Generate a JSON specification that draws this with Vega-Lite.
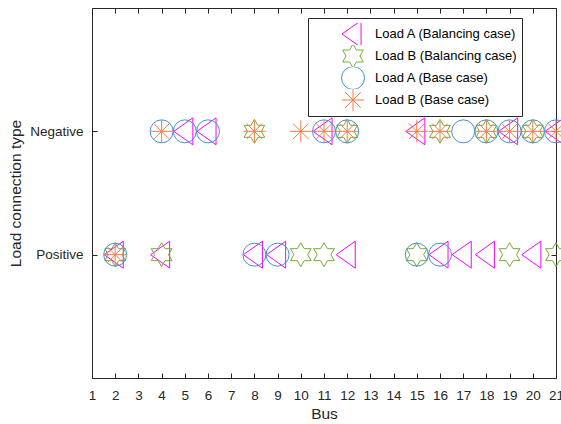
{
  "$schema": "https://vega.github.io/schema/vega-lite/v6.json",
  "width": 464,
  "height": 370,
  "autosize": {"type": "none"},
  "padding": {"left": 92, "top": 8, "right": 5, "bottom": 46},
  "background": "white",
  "config": {
    "font": "Liberation Sans",
    "view": {"stroke": "#262626", "strokeWidth": 1},
    "axis": {
      "grid": false,
      "domain": false,
      "tickColor": "#262626",
      "tickSize": -5,
      "tickWidth": 1,
      "labelColor": "#262626",
      "labelFont": "Liberation Sans",
      "labelFontSize": 13.5,
      "titleColor": "#262626",
      "titleFont": "Liberation Sans",
      "titleFontSize": 15.5,
      "titleFontWeight": "normal"
    }
  },
  "data": {
    "values": [
      {"bus": 5, "type": "Negative", "series": "Load A (Balancing case)"},
      {"bus": 6, "type": "Negative", "series": "Load A (Balancing case)"},
      {"bus": 11, "type": "Negative", "series": "Load A (Balancing case)"},
      {"bus": 15, "type": "Negative", "series": "Load A (Balancing case)"},
      {"bus": 19, "type": "Negative", "series": "Load A (Balancing case)"},
      {"bus": 21, "type": "Negative", "series": "Load A (Balancing case)"},
      {"bus": 2, "type": "Positive", "series": "Load A (Balancing case)"},
      {"bus": 4, "type": "Positive", "series": "Load A (Balancing case)"},
      {"bus": 8, "type": "Positive", "series": "Load A (Balancing case)"},
      {"bus": 9, "type": "Positive", "series": "Load A (Balancing case)"},
      {"bus": 12, "type": "Positive", "series": "Load A (Balancing case)"},
      {"bus": 16, "type": "Positive", "series": "Load A (Balancing case)"},
      {"bus": 17, "type": "Positive", "series": "Load A (Balancing case)"},
      {"bus": 18, "type": "Positive", "series": "Load A (Balancing case)"},
      {"bus": 20, "type": "Positive", "series": "Load A (Balancing case)"},

      {"bus": 8, "type": "Negative", "series": "Load B (Balancing case)"},
      {"bus": 12, "type": "Negative", "series": "Load B (Balancing case)"},
      {"bus": 16, "type": "Negative", "series": "Load B (Balancing case)"},
      {"bus": 18, "type": "Negative", "series": "Load B (Balancing case)"},
      {"bus": 20, "type": "Negative", "series": "Load B (Balancing case)"},
      {"bus": 2, "type": "Positive", "series": "Load B (Balancing case)"},
      {"bus": 4, "type": "Positive", "series": "Load B (Balancing case)"},
      {"bus": 10, "type": "Positive", "series": "Load B (Balancing case)"},
      {"bus": 11, "type": "Positive", "series": "Load B (Balancing case)"},
      {"bus": 15, "type": "Positive", "series": "Load B (Balancing case)"},
      {"bus": 19, "type": "Positive", "series": "Load B (Balancing case)"},
      {"bus": 21, "type": "Positive", "series": "Load B (Balancing case)"},

      {"bus": 4, "type": "Negative", "series": "Load A (Base case)"},
      {"bus": 5, "type": "Negative", "series": "Load A (Base case)"},
      {"bus": 6, "type": "Negative", "series": "Load A (Base case)"},
      {"bus": 11, "type": "Negative", "series": "Load A (Base case)"},
      {"bus": 12, "type": "Negative", "series": "Load A (Base case)"},
      {"bus": 17, "type": "Negative", "series": "Load A (Base case)"},
      {"bus": 18, "type": "Negative", "series": "Load A (Base case)"},
      {"bus": 19, "type": "Negative", "series": "Load A (Base case)"},
      {"bus": 20, "type": "Negative", "series": "Load A (Base case)"},
      {"bus": 21, "type": "Negative", "series": "Load A (Base case)"},
      {"bus": 2, "type": "Positive", "series": "Load A (Base case)"},
      {"bus": 8, "type": "Positive", "series": "Load A (Base case)"},
      {"bus": 9, "type": "Positive", "series": "Load A (Base case)"},
      {"bus": 15, "type": "Positive", "series": "Load A (Base case)"},
      {"bus": 16, "type": "Positive", "series": "Load A (Base case)"},

      {"bus": 4, "type": "Negative", "series": "Load B (Base case)"},
      {"bus": 8, "type": "Negative", "series": "Load B (Base case)"},
      {"bus": 10, "type": "Negative", "series": "Load B (Base case)"},
      {"bus": 11, "type": "Negative", "series": "Load B (Base case)"},
      {"bus": 12, "type": "Negative", "series": "Load B (Base case)"},
      {"bus": 15, "type": "Negative", "series": "Load B (Base case)"},
      {"bus": 16, "type": "Negative", "series": "Load B (Base case)"},
      {"bus": 18, "type": "Negative", "series": "Load B (Base case)"},
      {"bus": 19, "type": "Negative", "series": "Load B (Base case)"},
      {"bus": 20, "type": "Negative", "series": "Load B (Base case)"},
      {"bus": 21, "type": "Negative", "series": "Load B (Base case)"},
      {"bus": 2, "type": "Positive", "series": "Load B (Base case)"}
    ]
  },
  "layer": [
    {
      "mark": {"type": "point", "filled": false, "size": 529, "strokeWidth": 1, "opacity": 1},
      "encoding": {
        "x": {
          "field": "bus",
          "type": "quantitative",
          "scale": {"domain": [1, 21], "nice": false, "zero": false},
          "axis": {
            "orient": "bottom",
            "values": [1, 2, 3, 4, 5, 6, 7, 8, 9, 10, 11, 12, 13, 14, 15, 16, 17, 18, 19, 20, 21],
            "labelPadding": 15,
            "labelFlush": false,
            "labelOverlap": false,
            "title": "Bus",
            "titleY": 40,
            "titleBaseline": "alphabetic"
          }
        },
        "y": {
          "field": "type",
          "type": "nominal",
          "scale": {"type": "point", "domain": ["Negative", "Positive"], "padding": 1},
          "axis": {
            "orient": "left",
            "labelPadding": 14,
            "title": "Load connection type",
            "titleAngle": -90,
            "titleX": -72,
            "titleY": 185,
            "titleAlign": "center",
            "titleBaseline": "alphabetic"
          }
        },
        "shape": {
          "field": "series",
          "type": "nominal",
          "scale": {
            "domain": ["Load A (Balancing case)", "Load B (Balancing case)", "Load A (Base case)", "Load B (Base case)"],
            "range": [
              "M-0.96,0L0.7,-1.17L0.7,1.17Z",
              "M0,-1.04L0.3,-0.52L0.9,-0.52L0.6,0L0.9,0.52L0.3,0.52L0,1.04L-0.3,0.52L-0.9,0.52L-0.6,0L-0.9,-0.52L-0.3,-0.52Z",
              "circle",
              "M-0.96,0L0.96,0M0,-0.96L0,0.96M-0.68,-0.68L0.68,0.68M-0.68,0.68L0.68,-0.68"
            ]
          },
          "legend": {
            "orient": "none",
            "legendX": 216,
            "legendY": 10,
            "title": null,
            "padding": 5,
            "symbolOffset": 28,
            "symbolSize": 529,
            "symbolStrokeWidth": 1,
            "labelOffset": 10,
            "labelFont": "Liberation Sans",
            "labelFontSize": 13,
            "labelColor": "#000000",
            "rowPadding": 0,
            "clipHeight": 22,
            "strokeColor": "#262626",
            "fillColor": "white"
          }
        },
        "color": {
          "field": "series",
          "type": "nominal",
          "scale": {
            "domain": ["Load A (Balancing case)", "Load B (Balancing case)", "Load A (Base case)", "Load B (Base case)"],
            "range": ["#FF00FF", "#77AC30", "#4093D6", "#F77A45"]
          },
          "legend": {
            "orient": "none",
            "legendX": 216,
            "legendY": 10,
            "title": null,
            "padding": 5,
            "symbolOffset": 28,
            "symbolSize": 529,
            "symbolStrokeWidth": 1,
            "labelOffset": 10,
            "labelFont": "Liberation Sans",
            "labelFontSize": 13,
            "labelColor": "#000000",
            "rowPadding": 0,
            "clipHeight": 22,
            "strokeColor": "#262626",
            "fillColor": "white"
          }
        }
      }
    },
    {
      "mark": {"type": "point", "opacity": 0},
      "encoding": {
        "x": {
          "field": "bus",
          "type": "quantitative",
          "axis": {
            "orient": "top",
            "values": [1, 2, 3, 4, 5, 6, 7, 8, 9, 10, 11, 12, 13, 14, 15, 16, 17, 18, 19, 20, 21],
            "labels": false,
            "title": null
          }
        },
        "y": {
          "field": "type",
          "type": "nominal",
          "axis": {"orient": "right", "labels": false, "title": null}
        }
      }
    }
  ],
  "resolve": {"axis": {"x": "independent", "y": "independent"}}
}
